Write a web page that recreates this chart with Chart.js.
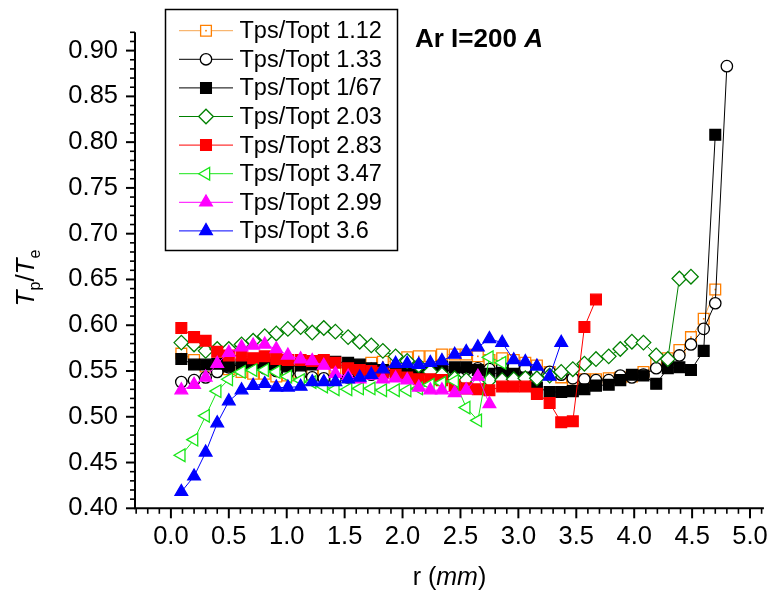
<!DOCTYPE html>
<html>
<head>
<meta charset="utf-8">
<script src="https://cdn.jsdelivr.net/npm/chart.js@4.4.0/dist/chart.umd.min.js"></script>
<style>
html,body{margin:0;padding:0;background:#ffffff;}
#wrap{width:781px;height:597px;position:relative;}
</style>
</head>
<body>
<div id="wrap"><canvas id="c" width="781" height="597"></canvas></div>
<script>
// ---------- data ----------
const rValues = [0.09,0.20,0.30,0.40,0.50,0.61,0.71,0.81,0.91,1.01,1.12,1.22,1.32,1.42,1.53,1.63,1.73,1.83,1.94,2.04,2.14,2.24,2.34,2.45,2.55,2.65,2.75,2.86,2.96,3.06,3.16,3.27,3.37,3.47,3.57,3.67,3.78,3.88,3.98,4.08,4.19,4.29,4.39,4.49,4.60,4.70,4.80];

const seriesLabels = ["Tps/Topt 1.12","Tps/Topt 1.33","Tps/Topt 1/67","Tps/Topt 2.03","Tps/Topt 2.83","Tps/Topt 3.47","Tps/Topt 2.99","Tps/Topt 3.6"];

const s112 = [.569,.562,.555,.553,.552,.549,.547,.547,.544,.545,.549,.549,.547,.553,.554,.556,.559,.560,.561,.565,.566,.566,.568,.568,.568,.566,.562,.564,.562,.559,.556,.549,.543,.540,.541,.541,.542,.543,.544,.549,.558,.564,.573,.587,.607,.639];
const s133 = [.538,.540,.543,.549,.554,.558,.557,.553,.550,.548,.547,.543,.542,.541,.543,.545,.546,.547,.548,.549,.549,.550,.550,.551,.552,.553,.552,.554,.555,.553,.550,.549,.546,.542,.541,.540,.540,.545,.543,.546,.553,.560,.567,.579,.596,.624,.883];
const s167 = [.563,.557,.557,.558,.555,.557,.557,.557,.557,.555,.556,.557,.560,.560,.559,.557,.553,.551,.550,.550,.552,.552,.555,.554,.554,.551,.547,.548,.547,.543,.532,.527,.527,.528,.530,.534,.535,.540,.546,.545,.536,.553,.554,.551,.572,.808];
const s203 = [.581,.579,.572,.574,.574,.579,.583,.588,.591,.596,.598,.592,.597,.593,.587,.582,.578,.572,.566,.561,.556,.549,.546,.542,.540,.538,.540,.540,.541,.542,.542,.545,.549,.552,.558,.563,.566,.574,.582,.581,.567,.563,.651,.653];
const s283 = [.597,.587,.583,.571,.567,.567,.564,.566,.563,.562,.562,.561,.562,.559,.553,.551,.550,.548,.546,.543,.541,.541,.540,.534,.531,.530,.529,.533,.533,.533,.525,.515,.494,.495,.598,.628];
const s347 = [.458,.475,.501,.528,.541,.549,.551,.551,.549,.544,.540,.538,.533,.530,.530,.531,.531,.529,.529,.529,.531,.535,.537,.539,.510,.496,.565,.559];
const s299 = [.529,.535,.543,.558,.570,.576,.578,.579,.574,.567,.563,.561,.556,.547,.544,.541,.545,.541,.542,.540,.532,.529,.529,.526,.529,.544,.514];
const s36  = [.418,.435,.461,.493,.517,.529,.534,.536,.532,.532,.533,.538,.538,.538,.541,.543,.546,.552,.558,.558,.557,.559,.561,.568,.571,.576,.585,.581,.562,.560,.555,.544,.581];

const xTickValues = [0.0,0.5,1.0,1.5,2.0,2.5,3.0,3.5,4.0,4.5,5.0];
const yTickValues = [0.40,0.45,0.50,0.55,0.60,0.65,0.70,0.75,0.80,0.85,0.90];

const annotationText = "Ar I=200 ";
const annotationUnit = "A";

// ---------- styles ----------
const FONT = '"Liberation Sans", Arial, Helvetica, sans-serif';
const seriesValues = [s112, s133, s167, s203, s283, s347, s299, s36];
const seriesStyles = [
  {line:'#f7a54f', edge:'#ff7f00', fill:'#ffffff', shape:'rect',     radius:7.6, rot:0},
  {line:'#000000', edge:'#000000', fill:'#ffffff', shape:'circle',   radius:5.7, rot:0},
  {line:'#000000', edge:'#000000', fill:'#000000', shape:'rect',     radius:7.6, rot:0},
  {line:'#008000', edge:'#008000', fill:'#ffffff', shape:'rectRot',  radius:7.3, rot:0},
  {line:'#ff0000', edge:'#ff0000', fill:'#ff0000', shape:'rect',     radius:7.6, rot:0},
  {line:'#19e619', edge:'#19e619', fill:'#ffffff', shape:'triangle', radius:7.3, rot:-90},
  {line:'#ff00ff', edge:'#ff00ff', fill:'#ff00ff', shape:'triangle', radius:7.3, rot:0},
  {line:'#0000ff', edge:'#0000ff', fill:'#0000ff', shape:'triangle', radius:7.3, rot:0}
];

const datasets = seriesValues.map((vals, i) => {
  const st = seriesStyles[i];
  return {
    label: seriesLabels[i],
    data: vals.map((v, k) => ({x: rValues[k], y: v})),
    showLine: true,
    borderColor: st.line,
    borderWidth: 1,
    tension: 0,
    pointStyle: st.shape,
    pointRadius: st.radius,
    pointHoverRadius: st.radius,
    pointRotation: st.rot,
    pointBackgroundColor: st.fill,
    pointBorderColor: st.edge,
    pointBorderWidth: 1.3,
    order: 20 - i,
    clip: false
  };
});

function drawMarker(ctx, st, x, y) {
  ctx.save();
  ctx.fillStyle = st.fill;
  ctx.strokeStyle = st.edge;
  ctx.lineWidth = 1.3;
  if (Chart.helpers && Chart.helpers.drawPoint) {
    Chart.helpers.drawPoint(ctx, {pointStyle: st.shape, radius: st.radius, rotation: st.rot, borderWidth: 1.3}, x, y);
  }
  ctx.restore();
}

function drawRich(ctx, parts, x, y, align) {
  let total = 0;
  parts.forEach(p => { ctx.font = p.f; total += ctx.measureText(p.t).width; });
  let cx = align === 'center' ? x - total / 2 : x;
  parts.forEach(p => {
    ctx.font = p.f;
    ctx.fillText(p.t, cx, y + (p.dy || 0));
    cx += ctx.measureText(p.t).width;
  });
}

const decor = {
  id: 'decor',
  afterDatasetDraw(chart, args) {
    if (args.index !== 0) return;
    const ctx = chart.ctx;
    ctx.save();
    ctx.fillStyle = '#ff7f00';
    args.meta.data.forEach(el => { ctx.fillRect(el.x - 0.8, el.y - 0.8, 1.6, 1.6); });
    ctx.restore();
  },
  afterDraw(chart) {
    const ctx = chart.ctx;
    const xs = chart.scales.x, ys = chart.scales.y;
    const area = chart.chartArea;
    ctx.save();
    ctx.strokeStyle = '#000';
    ctx.lineWidth = 2;
    ctx.beginPath();
    ctx.moveTo(area.left, area.top); ctx.lineTo(area.left, area.bottom + 1);
    ctx.moveTo(area.left - 1, area.bottom); ctx.lineTo(area.right, area.bottom);
    ctx.stroke();
    for (let k = -3; k <= 51; k++) {
      const v = k / 10;
      const px = xs.getPixelForValue(v);
      if (px < area.left + 1 || px > area.right + 0.5) continue;
      const major = (k % 5 === 0);
      ctx.lineWidth = major ? 2 : 1.6;
      ctx.beginPath();
      ctx.moveTo(px, area.bottom);
      ctx.lineTo(px, area.bottom + (major ? 10 : 5.5));
      ctx.stroke();
    }
    for (let k = 40; k <= 92; k++) {
      const v = k / 100;
      const py = ys.getPixelForValue(v);
      const major = (k % 5 === 0);
      ctx.lineWidth = major ? 2 : 1.6;
      ctx.beginPath();
      ctx.moveTo(area.left, py);
      ctx.lineTo(area.left - (major ? 9 : 5), py);
      ctx.stroke();
    }
    ctx.fillStyle = '#000';
    ctx.textBaseline = 'alphabetic';
    drawRich(ctx, [
      {t: 'r (', f: '25px ' + FONT},
      {t: 'mm', f: 'italic 25px ' + FONT},
      {t: ')', f: '25px ' + FONT}
    ], (area.left + area.right) / 2, 585, 'center');

    ctx.save();
    ctx.translate(34, 278);
    ctx.rotate(-Math.PI / 2);
    drawRich(ctx, [
      {t: 'T', f: 'italic 26px ' + FONT},
      {t: 'p', f: '16px ' + FONT, dy: 6},
      {t: '/', f: '26px ' + FONT},
      {t: 'T', f: 'italic 26px ' + FONT},
      {t: 'e', f: '16px ' + FONT, dy: 6}
    ], 0, 0, 'center');
    ctx.restore();

    drawRich(ctx, [
      {t: annotationText, f: 'bold 26px ' + FONT},
      {t: annotationUnit, f: 'italic bold 26px ' + FONT}
    ], 415, 46.5, 'left');

    ctx.lineWidth = 1.5;
    ctx.strokeStyle = '#000';
    ctx.strokeRect(165.5, 9.5, 232, 241);
    const rowY0 = 30.7, rowStep = 28.6;
    chart.data.datasets.forEach((ds, i) => {
      const st = seriesStyles[i];
      const y = rowY0 + i * rowStep;
      ctx.strokeStyle = st.line;
      ctx.lineWidth = 1;
      ctx.beginPath();
      ctx.moveTo(179, y); ctx.lineTo(233, y);
      ctx.stroke();
      drawMarker(ctx, st, 206, y);
      if (i === 0) { ctx.fillStyle = '#ff7f00'; ctx.fillRect(205.2, y - 0.8, 1.6, 1.6); }
      ctx.fillStyle = '#000';
      ctx.font = '23.5px ' + FONT;
      ctx.textBaseline = 'middle';
      ctx.textAlign = 'left';
      ctx.fillText(ds.label, 239.5, y + 1);
    });
    ctx.restore();
  }
};

new Chart(document.getElementById('c'), {
  type: 'scatter',
  data: {datasets},
  options: {
    responsive: false,
    animation: false,
    devicePixelRatio: 1,
    layout: {padding: {top: 30, right: 11.5, left: 0, bottom: 0}},
    plugins: {legend: {display: false}, tooltip: {enabled: false}},
    scales: {
      x: {
        type: 'linear',
        min: -0.31,
        max: 5.12,
        afterBuildTicks: s => { s.ticks = xTickValues.map(v => ({value: v})); },
        afterFit: s => { s.height = 597 - 508.3; },
        grid: {display: false, drawTicks: false},
        border: {display: false},
        ticks: {
          autoSkip: false, maxRotation: 0, minRotation: 0,
          padding: 13,
          color: '#000',
          font: {family: FONT, size: 25.5},
          callback: v => Number(v).toFixed(1)
        }
      },
      y: {
        type: 'linear',
        min: 0.40,
        max: 0.92,
        afterBuildTicks: s => { s.ticks = yTickValues.map(v => ({value: v})); },
        afterFit: s => { s.width = 135; },
        grid: {display: false, drawTicks: false},
        border: {display: false},
        ticks: {
          autoSkip: false,
          padding: 17,
          color: '#000',
          font: {family: FONT, size: 25.5},
          callback: v => Number(v).toFixed(2)
        }
      }
    }
  },
  plugins: [decor]
});
</script>
</body>
</html>
